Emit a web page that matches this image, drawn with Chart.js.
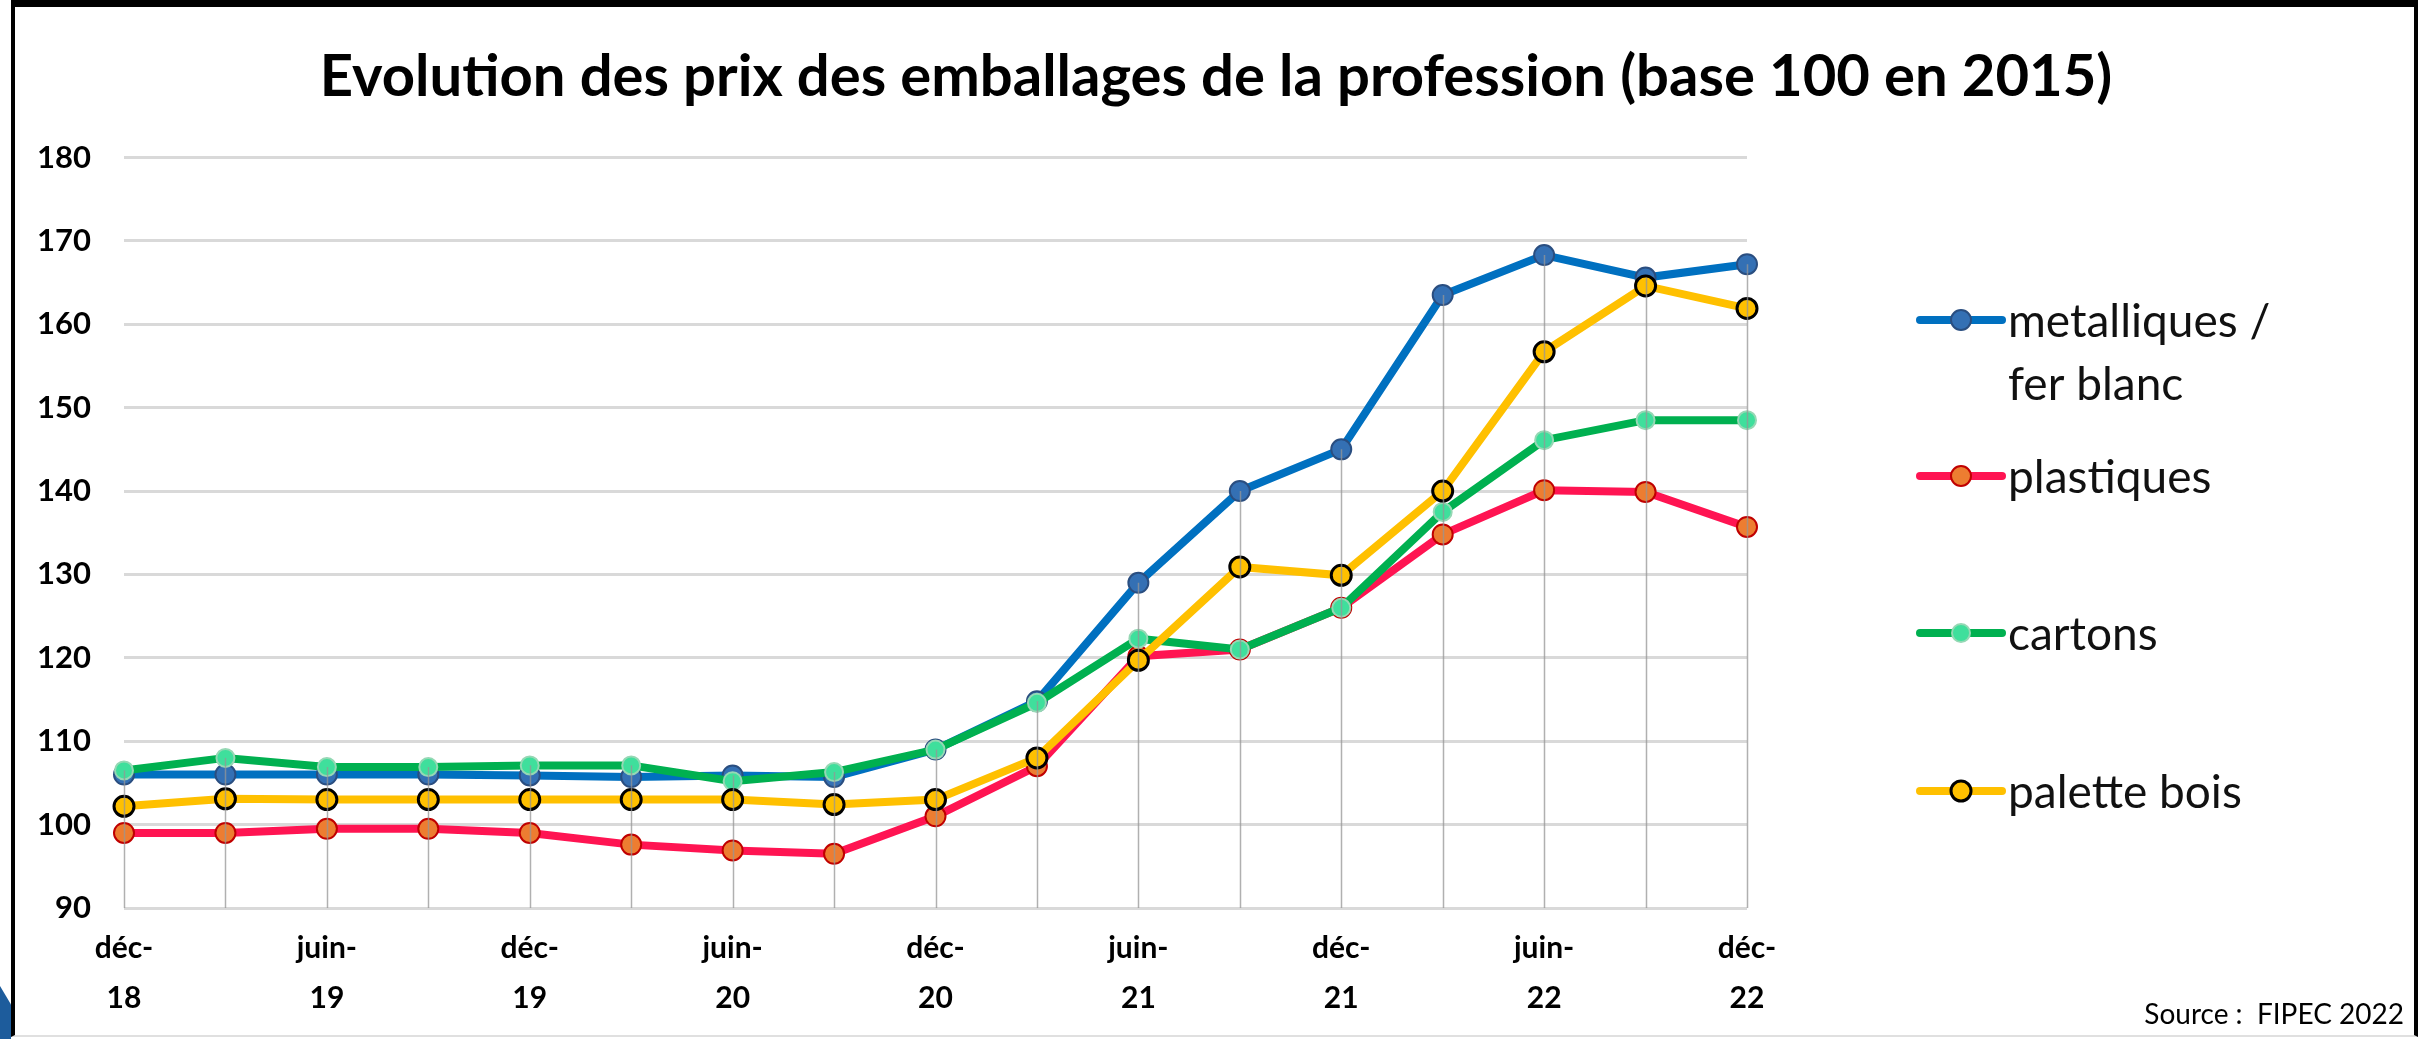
<!DOCTYPE html>
<html lang="fr">
<head>
<meta charset="utf-8">
<title>Evolution des prix des emballages</title>
<script src="https://cdn.jsdelivr.net/npm/chart.js@4.4.1/dist/chart.umd.min.js"></script>
<style>
  html, body { margin: 0; padding: 0; background: #fff; }
  body { width: 2422px; height: 1039px; position: relative; overflow: hidden; font-family: Lato, "Open Sans", sans-serif; }
  #frame { position: absolute; left: 11px; top: 0; width: 2407px; height: 1037px; box-sizing: border-box;
    border-left: 4px solid #000; border-right: 4px solid #000; border-top: 7px solid #000; border-bottom: 2px solid #e0e0e0; }
  #corner { position: absolute; left: 0; top: 986px; width: 11px; height: 53px; background: #1d5c9c;
    clip-path: polygon(0 0, 100% 35%, 100% 100%, 0 100%); }
  #title { position: absolute; left: 0; top: 39px; width: 2432px; text-align: center; line-height: 70px;
    font: bold 58px/70px Lato, sans-serif; color: #000; white-space: nowrap; }
  #source { position: absolute; right: 18px; top: 996px; font: 28px Lato, sans-serif; color: #000; white-space: pre; }
  #wrap { position: absolute; left: 0; top: 0; width: 2422px; height: 1039px; }
</style>
</head>
<body>
<div id="frame"></div>
<div id="corner"></div>
<div id="title"></div>
<div id="wrap"><canvas id="chart" width="2422" height="1039"></canvas></div>
<div id="source">Source :  FIPEC 2022</div>
<script>
// ============================================================
// DONNEES (trimestrielles, base 100 en 2015)
// ============================================================
const periodes = [
  "déc-18", "mars-19", "juin-19", "sept-19",
  "déc-19", "mars-20", "juin-20", "sept-20",
  "déc-20", "mars-21", "juin-21", "sept-21",
  "déc-21", "mars-22", "juin-22", "sept-22", "déc-22",
];
const metalliques = [106, 106, 106, 106, 105.9, 105.7, 105.9, 105.7, 109, 114.8, 129, 140, 145, 163.5, 168.3, 165.6, 167.2];
const plastiques = [99, 99, 99.5, 99.5, 99, 97.6, 96.9, 96.5, 101, 107, 120.2, 121, 126, 134.8, 140.1, 139.9, 135.7];
const cartons = [106.5, 108, 106.9, 106.9, 107.1, 107.1, 105.2, 106.3, 109, 114.6, 122.3, 121, 126, 137.5, 146.1, 148.5, 148.5];
const paletteBois = [102.2, 103.1, 103, 103, 103, 103, 103, 102.4, 103, 108, 119.7, 130.9, 129.9, 140, 156.7, 164.6, 161.9];
const yTicksMin = 90;
const yTicksMax = 180;
const yStep = 10;

const titre = "Evolution des prix des emballages de la profession (base 100 en 2015)";
document.getElementById("title").textContent = titre;

// ============================================================
// PLUGINS
// ============================================================
// lignes de projection (du point le plus haut jusqu'à l'axe)
const dropLines = {
  id: "dropLines",
  afterDatasetsDraw(chart) {
    const { ctx, chartArea, scales } = chart;
    const n = chart.data.labels.length;
    ctx.save();
    ctx.strokeStyle = "rgba(150,150,150,0.75)";
    ctx.lineWidth = 1.5;
    for (let i = 0; i < n; i++) {
      const top = Math.max(...chart.data.datasets.map((d) => d.data[i]));
      const x = Math.round(scales.x.getPixelForValue(i)) + 0.5;
      ctx.beginPath();
      ctx.moveTo(x, scales.y.getPixelForValue(top));
      ctx.lineTo(x, chartArea.bottom);
      ctx.stroke();
    }
    ctx.restore();
  },
};

// légende à droite
const sideLegend = {
  id: "sideLegend",
  afterDraw(chart) {
    const { ctx } = chart;
    const rowsY = [320, 476, 633, 791];
    const x0 = 1920, x1 = 2002, tx = 2008;
    ctx.save();
    ctx.font = "46px Lato, sans-serif";
    ctx.textBaseline = "middle";
    chart.data.datasets.forEach((ds, i) => {
      const y = rowsY[i];
      ctx.strokeStyle = ds.borderColor;
      ctx.lineWidth = ds.borderWidth;
      ctx.lineCap = "round";
      ctx.beginPath();
      ctx.moveTo(x0, y);
      ctx.lineTo(x1, y);
      ctx.stroke();
      ctx.beginPath();
      ctx.arc((x0 + x1) / 2, y, ds.pointRadius, 0, Math.PI * 2);
      ctx.fillStyle = ds.pointBackgroundColor;
      ctx.fill();
      ctx.lineWidth = ds.pointBorderWidth;
      ctx.strokeStyle = ds.pointBorderColor;
      ctx.stroke();
      // retour à la ligne
      const words = ds.label.split(" ");
      const lines = [];
      let cur = "";
      words.forEach((w) => {
        const test = cur ? cur + " " + w : w;
        if (ctx.measureText(test).width > 320 && cur) {
          lines.push(cur);
          cur = w;
        } else cur = test;
      });
      lines.push(cur);
      ctx.fillStyle = "#111";
      lines.forEach((l, k) => ctx.fillText(l, tx, y + 2 + k * 63));
    });
    ctx.restore();
  },
};

// ============================================================
// GRAPHIQUE
// ============================================================
new Chart(document.getElementById("chart"), {
  type: "line",
  data: {
    labels: periodes,
    datasets: [
      {
        label: "metalliques / fer blanc",
        data: metalliques,
        borderColor: "#0070C0",
        borderWidth: 8,
        pointRadius: 10,
        pointBackgroundColor: "#3470B4",
        pointBorderColor: "#2A4E80",
        pointBorderWidth: 2,
        order: 3,
      },
      {
        label: "plastiques",
        data: plastiques,
        borderColor: "#FF1452",
        borderWidth: 8,
        pointRadius: 10,
        pointBackgroundColor: "#ED7D31",
        pointBorderColor: "#C00000",
        pointBorderWidth: 2,
        order: 2,
      },
      {
        label: "cartons",
        data: cartons,
        borderColor: "#00B050",
        borderWidth: 8,
        pointRadius: 9,
        pointBackgroundColor: "#3FDF9C",
        pointBorderColor: "#95D8B4",
        pointBorderWidth: 2,
        order: 1,
      },
      {
        label: "palette bois",
        data: paletteBois,
        borderColor: "#FFC000",
        borderWidth: 8,
        pointRadius: 10,
        pointBackgroundColor: "#FFC000",
        pointBorderColor: "#000000",
        pointBorderWidth: 3,
        order: 0,
      },
    ],
  },
  options: {
    responsive: false,
    animation: false,
    layout: { padding: { top: 157.5, left: 0, right: 675, bottom: 0 } },
    plugins: {
      legend: { display: false },
      tooltip: { enabled: false },
      title: { display: false },
    },
    scales: {
      x: {
        grid: { display: false, drawTicks: false },
        border: { display: false },
        ticks: {
          autoSkip: false,
          maxRotation: 0,
          padding: 15,
          color: "#000",
          font: { family: "Lato", weight: "bold", size: 30, lineHeight: 1.667 },
          callback: function (value, index) {
            if (index % 2) return "";
            const p = this.getLabelForValue(value).split("-");
            return [p[0] + "-", p[1]];
          },
        },
        afterFit: (s) => { s.height = 131; },
      },
      y: {
        min: yTicksMin,
        max: yTicksMax,
        grid: { color: "#d9d9d9", lineWidth: 3, drawTicks: false },
        border: { display: false },
        ticks: {
          stepSize: yStep,
          padding: 33,
          color: "#000",
          font: { family: "Lato", weight: "bold", size: 31 },
        },
        afterFit: (s) => { s.width = 124; },
      },
    },
  },
  plugins: [dropLines, sideLegend],
});
</script>
</body>
</html>
